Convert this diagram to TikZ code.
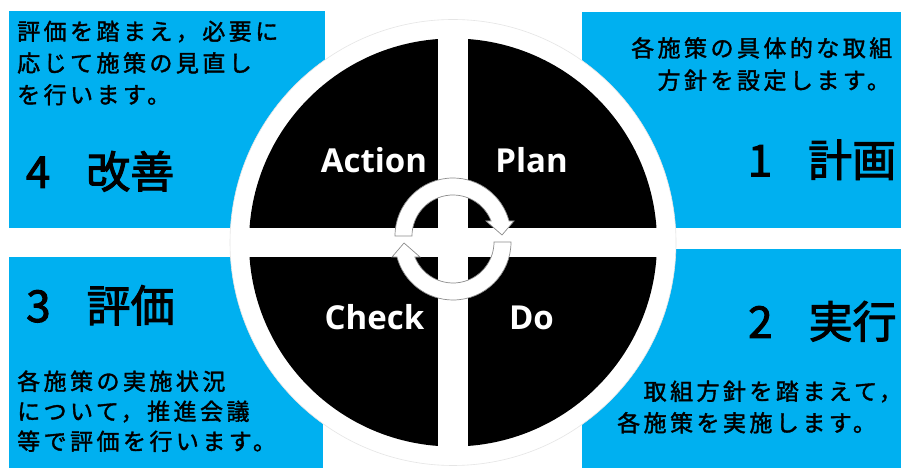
\documentclass[tikz,border=0pt]{standalone}
\usepackage{fontspec}
\newfontfamily\jpbody[LetterSpace=15,FakeBold=1.6]{Noto Sans CJK JP}
\newfontfamily\jptitle[FakeBold=2.2]{Noto Sans CJK JP}
\newfontfamily\latlab{Open Sans}
\definecolor{pdcablue}{HTML}{00B0F0}
\definecolor{ringgray}{gray}{0.55}
\begin{document}
\begin{tikzpicture}[x=1pt,y=1pt,
  bluebox/.style={fill=pdcablue},
  bodytxt/.style={anchor=base west,inner sep=0pt,font=\jpbody\fontsize{23}{23}\selectfont},
  titletxt/.style={anchor=base west,inner sep=0pt,font=\jptitle\fontsize{44}{44}\selectfont},
  pdcalab/.style={anchor=base,inner sep=0pt,text=white,font=\latlab\bfseries\fontsize{33}{33}\selectfont},
  cyclearrow/.style={fill=white,draw=ringgray,line width=0.7pt,line join=miter}]
\useasboundingbox (0,0) rectangle (901,468);
\fill[white] (0,0) rectangle (901,468);
% blue boxes
\fill[bluebox] (9,240) rectangle (325,457);
\fill[bluebox] (582,240) rectangle (901,456);
\fill[bluebox] (9,0) rectangle (323,211);
\fill[bluebox] (582,0) rectangle (901,219);
% circle
\coordinate (cc) at (453,225.5);
\fill[white] (cc) circle[radius=223];
\draw[gray!20,line width=0.6pt] (cc) circle[radius=223];
\fill[black] (cc) circle[radius=204];
\fill[white] (438,20) rectangle (468,431);
\fill[white] (247,211) rectangle (659,240);
% cycle arrows
\begin{scope}[shift={(453,232)}]
\draw[cyclearrow] (180:58) arc[start angle=180,end angle=15,radius=58]
  -- (61,15) -- (49,1) -- (33,15) -- (21.5:41)
  arc[start angle=21.5,end angle=180,radius=41] -- cycle;
\end{scope}
\begin{scope}[shift={(453,226)}]
\draw[cyclearrow] (0:58) arc[start angle=0,end angle=-165,radius=58]
  -- (-61,-15) -- (-49,-1) -- (-33,-15) -- (-158.5:41)
  arc[start angle=-158.5,end angle=0,radius=41] -- cycle;
\end{scope}
% PDCA labels
\node[pdcalab] (action) at (374,295) {Action};
\node[pdcalab] (plan) at (531.5,295) {Plan};
\node[pdcalab] (check) at (374.5,138) {Check};
\node[pdcalab] (do) at (531.5,138) {Do};
% top-left
\node[bodytxt] (tla) at (17,428) {評価を踏まえ，必要に};
\node[bodytxt] (tlb) at (17,396.3) {応じて施策の見直し};
\node[bodytxt] (tlc) at (17,364.6) {を行います。};
\node[titletxt] (tlt) at (25.7,280) {4\hspace{36pt}改善};
% top-right
\node[bodytxt] (tra) at (631,411.3) {各施策の具体的な取組};
\node[bodytxt] (trb) at (631,379) {　方針を設定します。};
\node[titletxt] (trt) at (747.6,291.5) {1\hspace{36pt}計画};
% bottom-left
\node[titletxt] (blt) at (26,146) {3\hspace{36pt}評価};
\node[bodytxt] (bla) at (17,78) {各施策の実施状況};
\node[bodytxt] (blb) at (17,48) {について，推進会議};
\node[bodytxt] (blc) at (17,18) {等で評価を行います。};
% bottom-right
\node[titletxt] (brt) at (748,130) {2\hspace{36pt}実行};
\node[bodytxt] (bra) at (617,68) {　取組方針を踏まえて，};
\node[bodytxt] (brb) at (617,36.5) {各施策を実施します。};
\end{tikzpicture}
\end{document}
